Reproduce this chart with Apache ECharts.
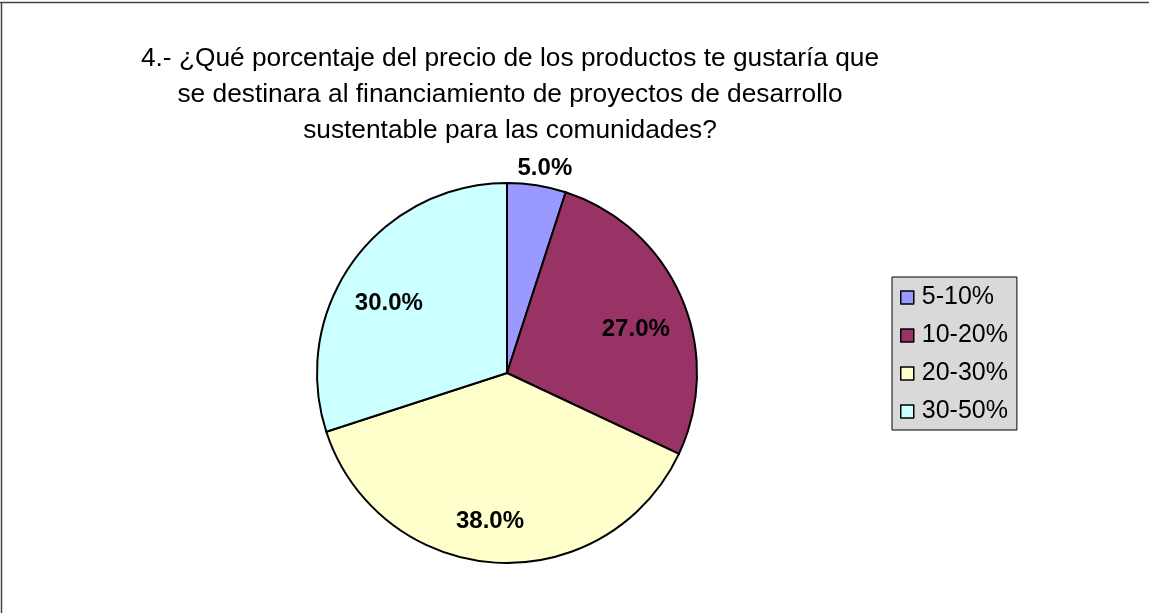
<!DOCTYPE html>
<html>
<head>
<meta charset="utf-8">
<script src="https://cdn.jsdelivr.net/npm/echarts@6/dist/echarts.min.js"></script>
<style>
  html, body { margin: 0; padding: 0; background: #ffffff; }
  #chart { width: 1149px; height: 613px; }
</style>
</head>
<body>
<div id="chart"></div>
<script>
// Survey answer ranges and the share of responses for each
const categories = ['5-10%', '10-20%', '20-30%', '30-50%'];
const shares = [5.0, 27.0, 38.0, 30.0];
const sliceColors = ['#9999FF', '#993366', '#FFFFCC', '#CCFFFF'];
const titleLines = [
  '4.- ¿Qué porcentaje del precio de los productos te gustaría que',
  'se destinara al financiamiento de proyectos de desarrollo',
  'sustentable para las comunidades?'
];
// small nudges applied to each percentage label (pixels)
const labelNudges = [[5, 3], [-3, 13], [-8, 5], [-2, 15]];

const FONT = 'Liberation Sans, Arial, sans-serif';
const center = [507, 373];
const R = 190;

const pieData = categories.map((name, i) => ({
  name,
  value: shares[i],
  itemStyle: { color: sliceColors[i] }
}));

// Labels: the small slice gets its label just outside the rim,
// the others sit inside their slices, about three quarters out.
const innerLabelData = categories.map((name, i) => ({
  name,
  value: shares[i],
  label: { show: i !== 0, offset: labelNudges[i] }
}));
const outerLabelData = categories.map((name, i) => ({
  name,
  value: shares[i],
  label: { show: i === 0, offset: labelNudges[i] }
}));

const labelStyle = {
  position: 'inside',
  formatter: p => p.value.toFixed(1) + '%',
  fontFamily: FONT,
  fontSize: 24,
  fontWeight: 'bold',
  color: '#000000'
};

const chart = echarts.init(document.getElementById('chart'), null, { renderer: 'canvas' });
chart.setOption({
  backgroundColor: '#ffffff',
  animation: false,
  title: {
    text: titleLines.join('\n'),
    left: 505,
    top: 36,
    textAlign: 'center',
    textStyle: {
      fontFamily: FONT,
      fontSize: 26.3,
      fontWeight: 'normal',
      lineHeight: 36,
      color: '#000000'
    }
  },
  legend: {
    orient: 'vertical',
    left: 892,
    top: 277,
    data: categories,
    icon: 'rect',
    itemWidth: 13,
    itemHeight: 13,
    itemGap: 13,
    padding: [8, 9, 6, 8],
    backgroundColor: '#d9d9d9',
    borderColor: '#000000',
    borderWidth: 1,
    borderRadius: 0,
    itemStyle: { borderColor: '#000000', borderWidth: 1.5 },
    textStyle: {
      fontFamily: FONT,
      fontSize: 25,
      lineHeight: 25,
      color: '#000000',
      padding: [0, 0, 0, 3]
    }
  },
  graphic: [
    { type: 'line', shape: { x1: 0, y1: 2.5, x2: 1149, y2: 2.5 }, style: { stroke: '#444444', lineWidth: 1.5 }, silent: true },
    { type: 'line', shape: { x1: 1.5, y1: 2, x2: 1.5, y2: 613 }, style: { stroke: '#444444', lineWidth: 1.5 }, silent: true }
  ],
  series: [
    {
      type: 'pie',
      center: center,
      radius: R,
      startAngle: 90,
      clockwise: true,
      data: pieData,
      label: { show: false },
      labelLine: { show: false },
      itemStyle: { borderColor: '#000000', borderWidth: 2 },
      emphasis: { disabled: true }
    },
    {
      type: 'pie',
      center: center,
      radius: R * 1.48,
      startAngle: 90,
      clockwise: true,
      silent: true,
      data: innerLabelData,
      itemStyle: { color: 'rgba(0,0,0,0)', borderWidth: 0 },
      label: labelStyle,
      labelLine: { show: false },
      emphasis: { disabled: true }
    },
    {
      type: 'pie',
      center: center,
      radius: R * 2.18,
      startAngle: 90,
      clockwise: true,
      silent: true,
      data: outerLabelData,
      itemStyle: { color: 'rgba(0,0,0,0)', borderWidth: 0 },
      label: labelStyle,
      labelLine: { show: false },
      emphasis: { disabled: true }
    }
  ]
});
</script>
</body>
</html>
